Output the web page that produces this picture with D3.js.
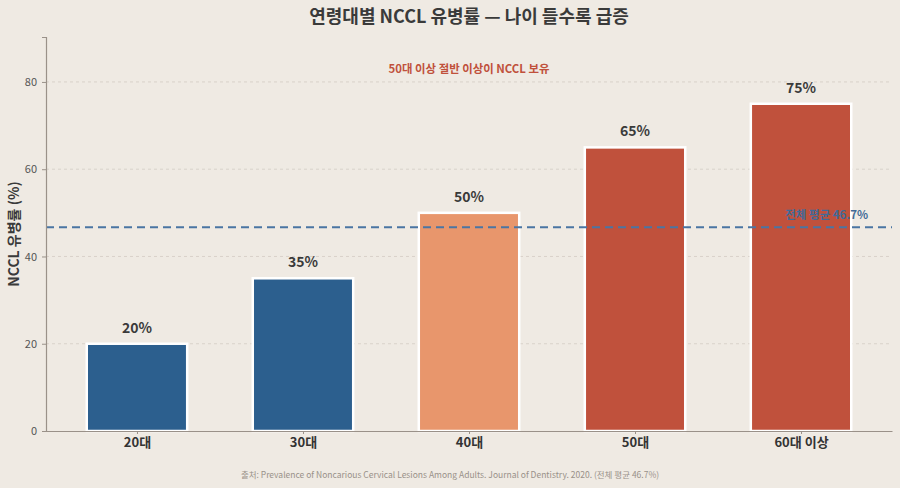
<!DOCTYPE html>
<html>
<head>
<meta charset="utf-8">
<script src="https://cdn.jsdelivr.net/npm/d3@7"></script>
<style>
  body { margin: 0; background: #efeae3; }
  svg { display: block; font-family: "Noto Sans CJK KR", "Noto Sans", sans-serif; }
</style>
</head>
<body>
<div id="chart"></div>
<script>
const categories = ["20대", "30대", "40대", "50대", "60대 이상"];
const values = [20, 35, 50, 65, 75];
const barColors = ["#2c5f8e", "#2c5f8e", "#e8966c", "#c0513c", "#c0513c"];
const yTicks = [0, 20, 40, 60, 80];
const average = 46.7;
const title = "연령대별 NCCL 유병률 — 나이 들수록 급증";
const yLabel = "NCCL 유병률 (%)";
const note = "50대 이상 절반 이상이 NCCL 보유";
const avgLabel = "전체 평균 46.7%";
const source = "출처: Prevalence of Noncarious Cervical Lesions Among Adults. Journal of Dentistry. 2020. (전체 평균 46.7%)";

const width = 900, height = 488;
const margin = { top: 37, right: 8, bottom: 57, left: 46 };

const svg = d3.select("#chart").append("svg")
  .attr("width", width)
  .attr("height", height);

svg.append("rect").attr("width", width).attr("height", height).attr("fill", "#efeae3");

const x = d3.scalePoint()
  .domain(categories)
  .range([margin.left, width - margin.right])
  .padding(0.548);
const barW = x.step() * 0.605;

const y = d3.scaleLinear()
  .domain([0, 90.3])
  .range([height - margin.bottom, margin.top]);

// grid
svg.append("g")
  .selectAll("line")
  .data(yTicks.filter(d => d > 0))
  .join("line")
  .attr("x1", margin.left).attr("x2", width - margin.right)
  .attr("y1", d => y(d)).attr("y2", d => y(d))
  .attr("stroke", "#d3ccc4")
  .attr("stroke-width", 0.8)
  .attr("stroke-dasharray", "3,3");

// bars
svg.append("g")
  .selectAll("rect")
  .data(values)
  .join("rect")
  .attr("x", (d, i) => x(categories[i]) - barW / 2)
  .attr("y", d => y(d))
  .attr("width", barW)
  .attr("height", d => y(0) - y(d))
  .attr("fill", (d, i) => barColors[i])
  .attr("stroke", "#ffffff")
  .attr("stroke-width", 2.5);

// value labels
svg.append("g")
  .selectAll("text")
  .data(values)
  .join("text")
  .attr("x", (d, i) => x(categories[i]))
  .attr("y", d => y(d) - 11)
  .attr("text-anchor", "middle")
  .attr("font-size", 14)
  .attr("font-weight", "bold")
  .attr("fill", "#3a3a3a")
  .text(d => d + "%");

// average line
svg.append("line")
  .attr("x1", margin.left).attr("x2", width - margin.right)
  .attr("y1", y(average)).attr("y2", y(average))
  .attr("stroke", "#4a75a3")
  .attr("stroke-width", 2)
  .attr("stroke-dasharray", "8,5");

svg.append("text")
  .attr("x", 868)
  .attr("y", y(average) - 8)
  .attr("text-anchor", "end")
  .attr("font-size", 11.5)
  .attr("font-weight", "bold")
  .attr("fill", "#3f6a98")
  .text(avgLabel);

// axes
const yAxis = svg.append("g")
  .attr("transform", `translate(${margin.left},0)`)
  .call(d3.axisLeft(y).tickValues(yTicks).tickSize(4).tickPadding(5));
yAxis.select(".domain").attr("stroke", "#9a9189").attr("stroke-width", 1.2);
yAxis.selectAll(".tick line").attr("stroke", "#9a9189");
yAxis.selectAll("text").attr("font-size", 11).attr("fill", "#555").attr("font-family", "Noto Sans CJK KR");

const xAxis = svg.append("g")
  .attr("transform", `translate(0,${y(0)})`)
  .call(d3.axisBottom(x).tickSize(3).tickPadding(4).tickSizeOuter(0));
xAxis.select(".domain").attr("stroke", "#9a9189").attr("stroke-width", 1.2);
xAxis.selectAll(".tick line").attr("stroke", "#9a9189");
xAxis.selectAll("text").attr("font-size", 13).attr("font-weight", "bold").attr("fill", "#333").attr("font-family", "Noto Sans CJK KR");

// note
svg.append("text")
  .attr("x", (margin.left + width - margin.right) / 2)
  .attr("y", 73)
  .attr("text-anchor", "middle")
  .attr("font-size", 11.4)
  .attr("font-weight", "bold")
  .attr("fill", "#c0513c")
  .text(note);

// title
svg.append("text")
  .attr("x", (margin.left + width - margin.right) / 2)
  .attr("y", 23)
  .attr("text-anchor", "middle")
  .attr("font-size", 18)
  .attr("font-weight", "bold")
  .attr("fill", "#3a3a3a")
  .text(title);

// y label
svg.append("text")
  .attr("transform", `translate(19,${(margin.top + height - margin.bottom) / 2}) rotate(-90)`)
  .attr("text-anchor", "middle")
  .attr("font-size", 14)
  .attr("font-weight", "bold")
  .attr("fill", "#3a3a3a")
  .text(yLabel);

// source
svg.append("text")
  .attr("x", width / 2)
  .attr("y", 478)
  .attr("text-anchor", "middle")
  .attr("font-size", 8.5)
  .attr("fill", "#999189")
  .text(source);
</script>
</body>
</html>
